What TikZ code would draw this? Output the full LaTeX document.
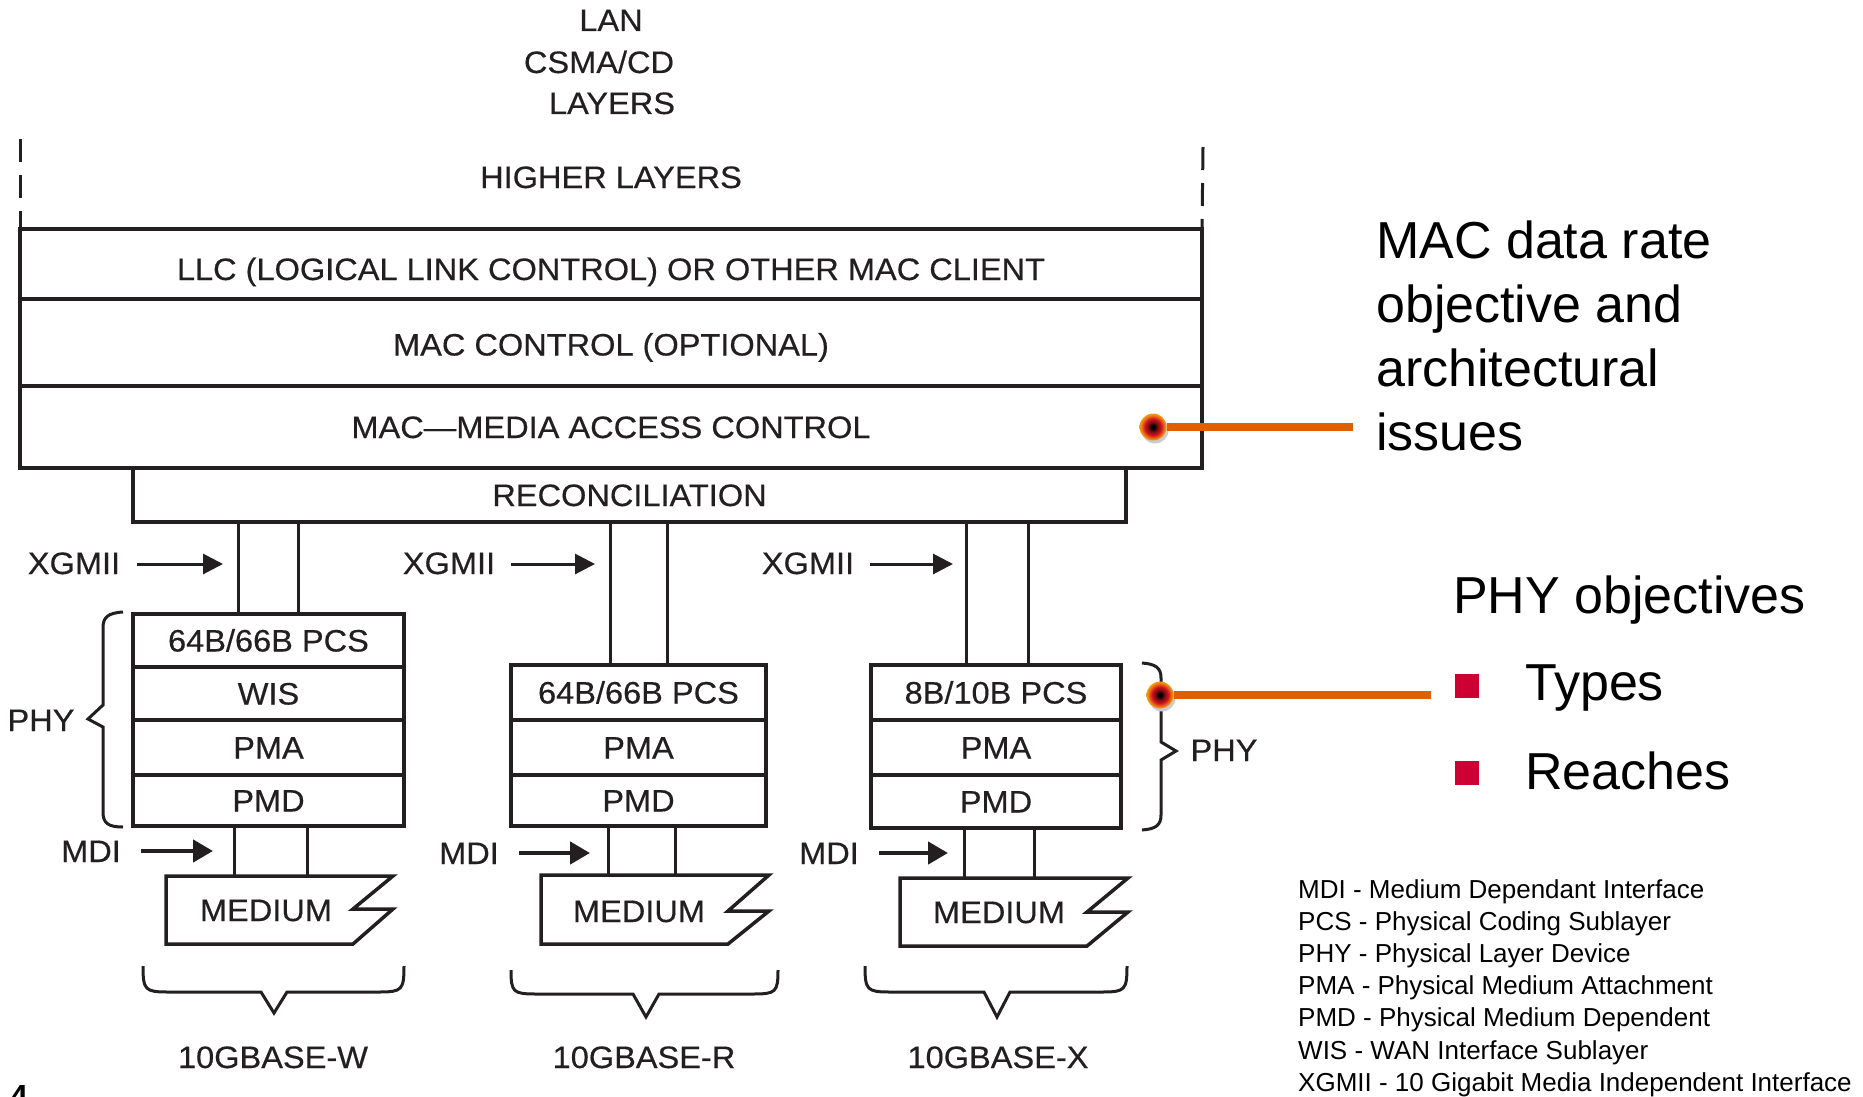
\documentclass[tikz,border=0pt]{standalone}
\usepackage{fontspec}
\setmainfont{Liberation Sans}
\newfontfamily\diagfam{Liberation Sans}[FakeBold=0.4, FakeStretch=1.05]
\usetikzlibrary{arrows.meta}
\definecolor{ink}{HTML}{231F20}
\definecolor{calloutorange}{HTML}{DF6000}
\definecolor{bulletred}{HTML}{CC0033}
\definecolor{dotred}{HTML}{7A1010}
\definecolor{dotredb}{HTML}{D01020}
\definecolor{dotorange}{HTML}{F08010}
\definecolor{dotyellow}{HTML}{F8B818}
\pgfdeclareradialshading{dotshade}{\pgfpoint{0bp}{0bp}}{color(0bp)=(black); color(3bp)=(black); color(9bp)=(dotred); color(15bp)=(dotredb); color(22bp)=(dotorange); color(28bp)=(dotyellow); color(50bp)=(dotyellow)}
\newcommand\diagfont{\diagfam\fontsize{31}{36}\selectfont}
\newcommand\bigfont{\fontsize{52}{64}\selectfont}
\newcommand\legfont{\fontsize{26}{32}\selectfont}
\begin{document}
\begin{tikzpicture}[x=1pt,y=-1pt,
  layer/.style={draw=ink, line width=3.5pt, inner sep=0pt, outer sep=0pt, anchor=north west, font=\diagfont, text=ink, text height=22pt, text depth=0pt},
  lbl/.style={inner sep=0pt, font=\diagfont, text=ink, text height=22pt, text depth=0pt},
  wire/.style={draw=ink, line width=3pt},
  xarrow/.style={draw=ink, line width=3pt, -{Triangle[length=20pt,width=20pt]}},
  marrow/.style={draw=ink, line width=4.5pt, -{Triangle[length=20pt,width=22pt]}},
  brace/.style={draw=ink, line width=3pt, line join=miter},
  medshape/.style={draw=ink, line width=3.5pt, line join=miter},
  dashedrule/.style={draw=ink, line width=3pt, dash pattern=on 23pt off 13pt},
  callout/.style={draw=calloutorange, line width=8pt},
  dot/.style={circle, minimum size=27pt, inner sep=0pt, outer sep=0pt, shading=dotshade},
  big/.style={inner sep=0pt, anchor=base west, font=\bigfont},
  legend/.style={inner sep=0pt, anchor=base west, font=\legfont},
  sq/.style={fill=bulletred, minimum size=24pt, inner sep=0pt},
]
\useasboundingbox (0,0) rectangle (1863,1097);
\clip (0,0) rectangle (1863,1097);

% title
\node[lbl] (lan) at (611,20) {LAN};
\node[lbl] (csma) at (599,62) {CSMA/CD};
\node[lbl] (layers) at (612,103) {LAYERS};
\node[lbl] (higher) at (611,177) {HIGHER LAYERS};

% main stack
\node[layer, minimum width=1182pt, minimum height=70pt, text height=32pt] (llc) at (20,229) {LLC (LOGICAL LINK CONTROL) OR OTHER MAC CLIENT};
\node[layer, minimum width=1182pt, minimum height=87pt, text height=26pt] (macctl) at (20,299) {MAC CONTROL (OPTIONAL)};
\node[layer, minimum width=1182pt, minimum height=82pt] (mac) at (20,386) {MAC—MEDIA ACCESS CONTROL};
\node[layer, minimum width=993pt, minimum height=54pt] (recon) at (133,468) {RECONCILIATION};

% dashed side rules
\coordinate (dl) at (20,139);
\coordinate (dr) at (1203,147);
\draw[dashedrule] (dl) -- (llc.north west);
\draw[dashedrule] (dr) -- (llc.north east);

% column 1
\node[layer, minimum width=271pt, minimum height=53pt] (pcsa) at (133,614) {64B/66B PCS};
\node[layer, minimum width=271pt, minimum height=53pt] (wisa) at (133,667) {WIS};
\node[layer, minimum width=271pt, minimum height=55pt] (pmaa) at (133,720) {PMA};
\node[layer, minimum width=271pt, minimum height=51pt] (pmda) at (133,775) {PMD};
% column 2
\node[layer, minimum width=255pt, minimum height=55pt] (pcsb) at (511,665) {64B/66B PCS};
\node[layer, minimum width=255pt, minimum height=55pt] (pmab) at (511,720) {PMA};
\node[layer, minimum width=255pt, minimum height=51pt] (pmdb) at (511,775) {PMD};
% column 3
\node[layer, minimum width=250pt, minimum height=55pt] (pcsc) at (871,665) {8B/10B PCS};
\node[layer, minimum width=250pt, minimum height=55pt] (pmac) at (871,720) {PMA};
\node[layer, minimum width=250pt, minimum height=53pt] (pmdc) at (871,775) {PMD};

% XGMII wires
\foreach \cx/\tgt in {238/pcsa, 298/pcsa, 610/pcsb, 667/pcsb, 966/pcsc, 1028/pcsc}{
  \coordinate (wx) at (\cx,0);
  \draw[wire] (recon.south -| wx) -- (\tgt.north -| wx);
}

% XGMII labels and arrows
\node[lbl] (xga) at (74,563) {XGMII};
\node[lbl] (xgb) at (449,563) {XGMII};
\node[lbl] (xgc) at (808,563) {XGMII};
\coordinate (xgae) at (223,564);
\coordinate (xgbe) at (595,564);
\coordinate (xgce) at (953,564);
\draw[xarrow] ([xshift=17pt]xga.east |- xgae) -- (xgae);
\draw[xarrow] ([xshift=16pt]xgb.east |- xgbe) -- (xgbe);
\draw[xarrow] ([xshift=16pt]xgc.east |- xgce) -- (xgce);

% medium shapes
\coordinate (meda) at (0,876);
\coordinate (medb) at (0,875);
\coordinate (medc) at (0,878);
\draw[medshape] (166,876) -- (393,876) -- (353,909) -- (393,909) -- (353,944) -- (166,944) -- cycle;
\draw[medshape] (541,875) -- (769,875) -- (728,911) -- (769,911) -- (728,944) -- (541,944) -- cycle;
\draw[medshape] (900,878) -- (1128,878) -- (1087,912) -- (1128,912) -- (1087,946) -- (900,946) -- cycle;
\node[lbl] (mediuma) at (266,910) {MEDIUM};
\node[lbl] (mediumb) at (639,911) {MEDIUM};
\node[lbl] (mediumc) at (999,912) {MEDIUM};

% MDI wires
\foreach \cx/\src/\dst in {234/pmda/meda, 307/pmda/meda, 608/pmdb/medb, 675/pmdb/medb, 964/pmdc/medc, 1034/pmdc/medc}{
  \coordinate (wm) at (\cx,0);
  \draw[wire] (\src.south -| wm) -- (\dst -| wm);
}

% MDI labels and arrows
\node[lbl] (mdia) at (91,851) {MDI};
\node[lbl] (mdib) at (469,853) {MDI};
\node[lbl] (mdic) at (829,853) {MDI};
\coordinate (mdiae) at (213,851);
\coordinate (mdibe) at (590,853);
\coordinate (mdice) at (948,853);
\draw[marrow] ([xshift=20pt]mdia.east |- mdiae) -- (mdiae);
\draw[marrow] ([xshift=20pt]mdib.east |- mdibe) -- (mdibe);
\draw[marrow] ([xshift=20pt]mdic.east |- mdice) -- (mdice);

% PHY braces
\draw[brace] (123,612) .. controls (108,613) and (103,617) .. (103,628) -- (103,705) -- (88,719) -- (103,727) -- (103,812) .. controls (103,823) and (108,827) .. (123,827);
\node[lbl] (phya) at (41,720) {PHY};
\draw[brace] (1142,663) .. controls (1156,664) and (1161,668) .. (1161,678) -- (1161,742) -- (1176,751) -- (1161,760) -- (1161,815) .. controls (1161,825) and (1156,829) .. (1142,830);
\node[lbl] (phyc) at (1224,750) {PHY};

% bottom braces
\draw[brace] (143,966) .. controls (143,990) and (145,992) .. (168,992) -- (261,992) -- (274,1013) -- (287,992) -- (379,992) .. controls (402,992) and (404,990) .. (404,966);
\draw[brace] (511,970) .. controls (511,992) and (513,994) .. (536,994) -- (633,994) -- (646,1017) -- (659,994) -- (753,994) .. controls (776,994) and (778,992) .. (778,970);
\draw[brace] (865,966) .. controls (865,990) and (867,992) .. (890,992) -- (984,992) -- (997,1017) -- (1010,992) -- (1102,992) .. controls (1125,992) and (1127,990) .. (1127,966);
\node[lbl] (basew) at (273,1057) {10GBASE-W};
\node[lbl] (baser) at (644,1057) {10GBASE-R};
\node[lbl] (basex) at (998,1057) {10GBASE-X};

% callouts
\coordinate (calla) at (1353,427);
\coordinate (callb) at (1431,695);
\fill[gray!40] (1155,430) circle (13.5pt);
\fill[gray!40] (1162,698) circle (13.5pt);
\node[dot] (dota) at (1153,427) {};
\node[dot] (dotb) at (1160,695) {};
\draw[callout] (dota) -- (calla);
\draw[callout] (dotb) -- (callb);

% right-hand text
\node[big] (ta) at (1376,258) {MAC data rate};
\node[big] (tb) at (1376,322) {objective and};
\node[big] (tc) at (1376,386) {architectural};
\node[big] (td) at (1376,450) {issues};
\node[big] (phyobj) at (1453,613) {PHY objectives};
\node[sq] (sqa) at (1467,686) {};
\node[sq] (sqb) at (1467,773) {};
\node[big] (types) at (1525,700) {Types};
\node[big] (reaches) at (1525,789) {Reaches};

% legend
\node[legend] (lga) at (1298,898) {MDI - Medium Dependant Interface};
\node[legend] (lgb) at (1298,930.2) {PCS - Physical Coding Sublayer};
\node[legend] (lgc) at (1298,962.4) {PHY - Physical Layer Device};
\node[legend] (lgd) at (1298,994.6) {PMA - Physical Medium Attachment};
\node[legend] (lge) at (1298,1026.8) {PMD - Physical Medium Dependent};
\node[legend] (lgf) at (1298,1059) {WIS - WAN Interface Sublayer};
\node[legend] (lgg) at (1298,1091.2) {XGMII - 10 Gigabit Media Independent Interface};

% page number
\node[inner sep=0pt, anchor=base west, font=\fontsize{32}{36}\selectfont\bfseries] (pagenum) at (10,1107) {4};
\end{tikzpicture}
\end{document}
